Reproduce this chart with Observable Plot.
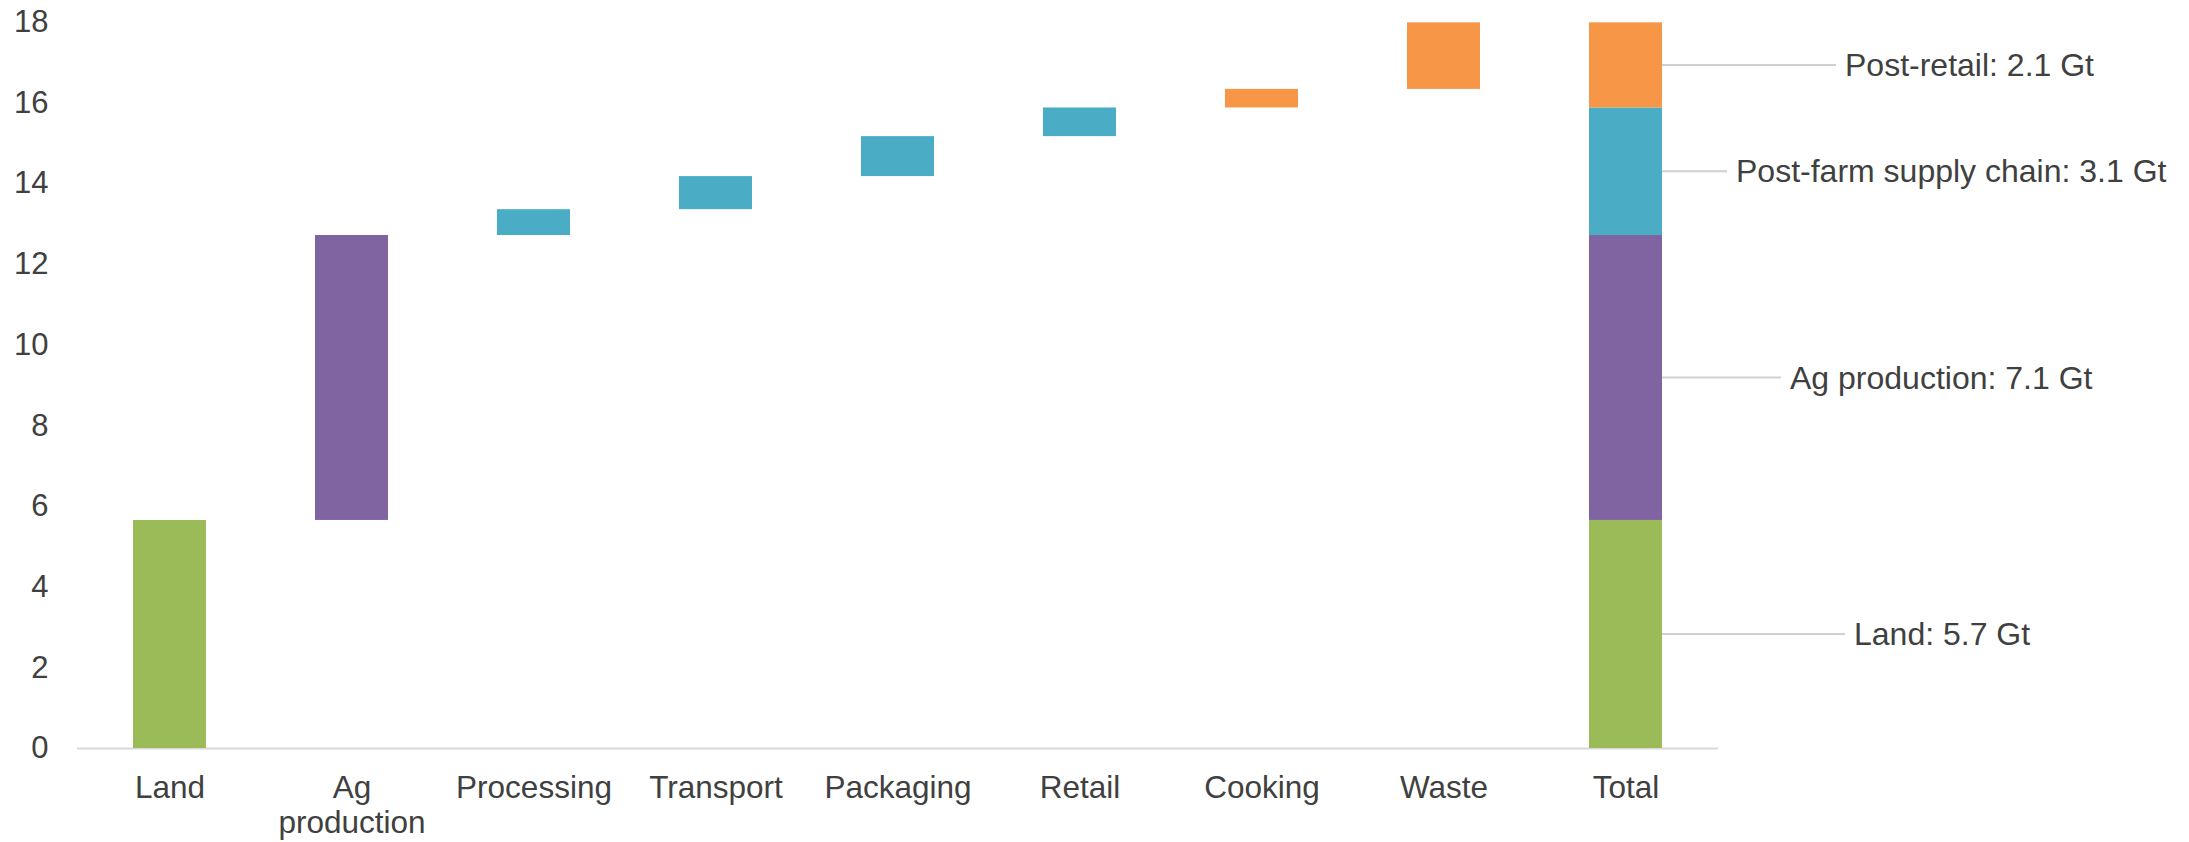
<!DOCTYPE html>
<html>
<head>
<meta charset="utf-8">
<script src="https://cdn.jsdelivr.net/npm/d3@7"></script>
<script src="https://cdn.jsdelivr.net/npm/@observablehq/plot@0.6"></script>
<style>
  html, body { margin: 0; padding: 0; background: #fff; }
  #chart svg { display: block; }
</style>
</head>
<body>
<div id="chart"></div>
<script>
// ---- data ----
const categories = ["Land", "Ag production", "Processing", "Transport", "Packaging", "Retail", "Cooking", "Waste", "Total"];
const tickLabels = ["Land", "Ag\nproduction", "Processing", "Transport", "Packaging", "Retail", "Cooking", "Waste", "Total"];
const stepValues = [5.65, 7.06, 0.64, 0.82, 0.99, 0.71, 0.46, 1.65];
const stepGroups = ["Land", "Ag production", "Post-farm supply chain", "Post-farm supply chain", "Post-farm supply chain", "Post-farm supply chain", "Post-retail", "Post-retail"];
const totalGroups = ["Land", "Ag production", "Post-farm supply chain", "Post-retail"];
const totalValues = [5.65, 7.06, 3.16, 2.11];
const totalLabels = ["Land: 5.7 Gt", "Ag production: 7.1 Gt", "Post-farm supply chain: 3.1 Gt", "Post-retail: 2.1 Gt"];
const yTicks = [0, 2, 4, 6, 8, 10, 12, 14, 16, 18];

// ---- styles ----
const groupColors = ["#9BBB59", "#8064A2", "#4BACC6", "#F79646"];
const labelOffsets = [192, 128, 74, 183]; // label start offset from bar right edge (px)
const FONT = "'Liberation Sans', Arial, sans-serif";
const TEXT = "#404040";

// ---- derived tables ----
let acc = 0;
const steps = stepValues.map((v, i) => {
  const row = {cat: categories[i], group: stepGroups[i], y1: acc, y2: acc + v};
  acc += v;
  return row;
});
let acc2 = 0;
const totals = totalValues.map((v, i) => {
  const row = {cat: "Total", group: totalGroups[i], y1: acc2, y2: acc2 + v, mid: acc2 + v / 2, label: totalLabels[i], off: labelOffsets[i]};
  acc2 += v;
  return row;
});

const W = 2189, H = 842;
const chart = Plot.plot({
  width: W,
  height: H,
  marginLeft: 77,
  marginRight: 471,
  marginTop: 21.5,
  marginBottom: 94,
  style: {fontFamily: FONT, color: TEXT, background: "#fff"},
  x: {domain: categories, paddingInner: 0.6, paddingOuter: 0.3, label: null},
  y: {domain: [0, 18], label: null},
  color: {domain: totalGroups, range: groupColors},
  marks: [
    Plot.axisY({ticks: yTicks, tickSize: 0, tickPadding: 29, fontSize: 31, label: null, fill: TEXT}),
    Plot.axisX({tickSize: 0, tickPadding: 24, fontSize: 31.5, lineHeight: 1.12, label: null, fill: TEXT,
      tickFormat: d => tickLabels[categories.indexOf(d)]}),
    Plot.ruleY([0], {stroke: "#d9d9d9", strokeWidth: 2}),
    Plot.barY(steps, {x: "cat", y1: "y1", y2: "y2", fill: "group"}),
    Plot.barY(totals, {x: "cat", y1: "y1", y2: "y2", fill: "group"})
  ]
});
document.getElementById("chart").appendChild(chart);

// connector lines + labels for the Total bar, positioned with Plot's own scales
const sx = chart.scale("x"), sy = chart.scale("y");
const xr = sx.apply("Total") + sx.bandwidth;
const svg = d3.select(chart);
const g = svg.append("g").attr("text-anchor", "start");
g.selectAll("line").data(totals).join("line")
  .attr("x1", xr).attr("x2", d => xr + d.off - 9)
  .attr("y1", d => sy.apply(d.mid)).attr("y2", d => sy.apply(d.mid))
  .attr("stroke", "#d0d0d0").attr("stroke-width", 2);
g.selectAll("text").data(totals).join("text")
  .attr("x", d => xr + d.off)
  .attr("y", d => sy.apply(d.mid))
  .attr("dy", "0.35em")
  .attr("text-anchor", "start")
  .attr("font-family", FONT).attr("font-size", 32).attr("fill", TEXT)
  .text(d => d.label);
</script>
</body>
</html>
